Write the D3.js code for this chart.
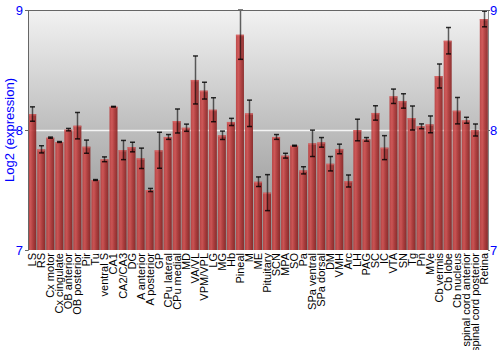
<!DOCTYPE html>
<html>
<head>
<meta charset="utf-8">
<script src="https://cdn.jsdelivr.net/npm/d3@7"></script>
<style>
  html, body { margin: 0; padding: 0; background: #fff; }
  svg { display: block; font-family: "Liberation Sans", Arial, sans-serif; }
</style>
</head>
<body>
<svg id="chart" width="500" height="350"></svg>
<script>
// Expression by brain region, log2 scale with error bars

const regions = [
    "LS", "RS", "Cx motor", "Cx cingulate", "OB anterior", "OB posterior", "Pir", "Tu",
    "ventral S", "CA1", "CA2/CA3", "DG", "A anterior", "A posterior", "GP", "CPu lateral",
    "CPu medial", "MD", "VA/VL", "VPM/VPL", "LG", "MG", "Hb", "Pineal", "M", "ME",
    "Pituitary", "SCN", "MPA", "SO", "Pa", "SPa ventral", "SPa dorsal", "DM", "VMH", "Arc",
    "LH", "PAG", "SC", "IC", "VTA", "SN", "Tg", "Pn", "MVe", "Cb vermis", "Cb lobe",
    "Cb nucleus", "spinal cord anterior", "spinal cord posterior", "Retina"
];

const means = [
    8.133, 7.839, 7.936, 7.900, 8.003, 8.036, 7.861, 7.583,
    7.756, 8.194, 7.833, 7.858, 7.764, 7.500, 7.831, 7.942,
    8.075, 8.019, 8.417, 8.328, 8.169, 7.956, 8.067, 8.794, 8.139, 7.569,
    7.478, 7.942, 7.786, 7.869, 7.664, 7.889, 7.897, 7.719, 7.842, 7.575,
    8.000, 7.922, 8.142, 7.853, 8.281, 8.242, 8.100, 8.031, 8.047, 8.450, 8.744,
    8.161, 8.081, 8.000, 8.925
];

const errors = [
    0.060, 0.030, 0.005, 0.004, 0.010, 0.110, 0.055, 0.004,
    0.020, 0.003, 0.080, 0.040, 0.085, 0.013, 0.150, 0.020,
    0.100, 0.030, 0.200, 0.070, 0.100, 0.035, 0.030, 0.205, 0.110, 0.040,
    0.150, 0.020, 0.020, 0.004, 0.030, 0.110, 0.040, 0.060, 0.040, 0.050,
    0.090, 0.015, 0.060, 0.100, 0.060, 0.060, 0.100, 0.020, 0.070, 0.100, 0.110,
    0.110, 0.025, 0.050, 0.065
];

const yTicks = [7, 8, 9];

const plot = { left: 28, right: 488, top: 10, bottom: 250 };

const svg = d3.select("#chart");
const defs = svg.append("defs");

const bgGrad = defs.append("linearGradient")
    .attr("id", "bg-grad")
    .attr("x1", 0).attr("y1", 0).attr("x2", 0).attr("y2", 1);
bgGrad.append("stop").attr("offset", "0%").attr("stop-color", "#f2f2f2");
bgGrad.append("stop").attr("offset", "50%").attr("stop-color", "#bdbdbd");
bgGrad.append("stop").attr("offset", "100%").attr("stop-color", "#8e8e8e");

const barGrad = defs.append("linearGradient")
    .attr("id", "bar-grad")
    .attr("x1", 0).attr("y1", 0).attr("x2", 1).attr("y2", 0);
barGrad.append("stop").attr("offset", "0%").attr("stop-color", "#b83a3a");
barGrad.append("stop").attr("offset", "30%").attr("stop-color", "#cf4d4d");
barGrad.append("stop").attr("offset", "60%").attr("stop-color", "#b03535");
barGrad.append("stop").attr("offset", "100%").attr("stop-color", "#862020");

const x = d3.scaleBand()
    .domain(regions)
    .range([plot.left, plot.right])
    .paddingInner(0.11)
    .paddingOuter(0.02);

const y = d3.scaleLinear()
    .domain([7, 9])
    .range([plot.bottom, plot.top]);

// plot background
svg.append("rect")
    .attr("x", plot.left)
    .attr("y", plot.top)
    .attr("width", plot.right - plot.left)
    .attr("height", plot.bottom - plot.top)
    .attr("fill", "url(#bg-grad)");

// gridline at 8
svg.append("line")
    .attr("x1", plot.left).attr("x2", plot.right)
    .attr("y1", y(8) + 0.5).attr("y2", y(8) + 0.5)
    .attr("stroke", "#f4f4f4")
    .attr("stroke-width", 1.5);

const data = regions.map((r, i) => ({ name: r, mean: means[i], err: errors[i] }));

// bars
svg.append("g")
    .selectAll("rect")
    .data(data)
    .join("rect")
    .attr("x", d => x(d.name))
    .attr("y", d => y(d.mean))
    .attr("width", x.bandwidth())
    .attr("height", d => y(7) - y(d.mean))
    .attr("fill", "url(#bar-grad)")
    .attr("fill-opacity", 0.9);

// light cap on bar tops
svg.append("g")
    .selectAll("rect")
    .data(data)
    .join("rect")
    .attr("x", d => x(d.name))
    .attr("y", d => y(d.mean))
    .attr("width", x.bandwidth())
    .attr("height", 1.5)
    .attr("fill", "#e07070")
    .attr("opacity", 0.6);

// error bars
const eg = svg.append("g");
data.forEach(d => {
    const cx = Math.round(x(d.name) + x.bandwidth() / 2) + 0.5;
    const hi = Math.min(9, d.mean + d.err);
    const lo = d.mean - d.err;
    eg.append("line")
        .attr("x1", cx).attr("x2", cx)
        .attr("y1", y(hi)).attr("y2", y(lo))
        .attr("stroke", "#000")
        .attr("stroke-opacity", 0.6)
        .attr("stroke-width", 1.5);
    [hi, lo].forEach(v => {
        eg.append("line")
            .attr("x1", cx - 2.5).attr("x2", cx + 2.5)
            .attr("y1", y(v)).attr("y2", y(v))
            .attr("stroke", "#000")
            .attr("stroke-opacity", 0.8)
            .attr("stroke-width", 1.5);
    });
});

// top frame line
svg.append("line")
    .attr("x1", plot.left).attr("x2", plot.right)
    .attr("y1", plot.top + 0.5).attr("y2", plot.top + 0.5)
    .attr("stroke", "#666");

// left axis
const leftAxis = svg.append("g")
    .attr("transform", `translate(${plot.left},0)`)
    .call(d3.axisLeft(y).tickValues(yTicks).tickSize(3).tickFormat(d3.format("d")));
leftAxis.select(".domain").attr("stroke", "#666");
leftAxis.selectAll(".tick line").attr("stroke", "#666");
leftAxis.selectAll("text")
    .attr("fill", "#0000ff")
    .attr("font-size", "13px")
    .attr("font-family", "Liberation Sans, Arial, sans-serif")
    .attr("x", -5);

// right axis
const rightAxis = svg.append("g")
    .attr("transform", `translate(${plot.right},0)`)
    .call(d3.axisRight(y).tickValues(yTicks).tickSize(2).tickFormat(d3.format("d")));
rightAxis.select(".domain").attr("stroke", "#888");
rightAxis.selectAll(".tick line").attr("stroke", "#666");
rightAxis.selectAll("text")
    .attr("fill", "#0000ff")
    .attr("font-size", "13px")
    .attr("font-family", "Liberation Sans, Arial, sans-serif")
    .attr("x", 2);

// y title
svg.append("text")
    .attr("transform", `translate(14,${(plot.top + plot.bottom) / 2}) rotate(-90)`)
    .attr("text-anchor", "middle")
    .attr("fill", "#0000ff")
    .attr("font-size", "13px")
    .text("Log2 (expression)");

// x labels
svg.append("g")
    .selectAll("text")
    .data(regions)
    .join("text")
    .attr("transform", d => `translate(${x(d) + x.bandwidth() / 2 + 4},${plot.bottom + 3}) rotate(-90)`)
    .attr("text-anchor", "end")
    .attr("font-size", "11px")
    .attr("fill", "#000")
    .text(d => d);
</script>
</body>
</html>
